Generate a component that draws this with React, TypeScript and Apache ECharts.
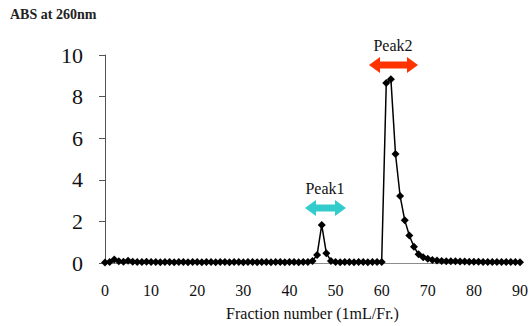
import React, { useEffect, useRef } from "react";
import * as echarts from "echarts";

const fractions: number[] = Array.from({ length: 91 }, (_, i) => i);
const absValues: number[] = [
  0.02, 0.05, 0.17, 0.08, 0.06, 0.11, 0.06, 0.05, 0.05, 0.06,
  0.05, 0.05, 0.04, 0.05, 0.05, 0.04, 0.05, 0.05, 0.04, 0.05,
  0.05, 0.04, 0.05, 0.05, 0.04, 0.05, 0.05, 0.04, 0.05, 0.05,
  0.04, 0.05, 0.05, 0.04, 0.05, 0.05, 0.04, 0.05, 0.05, 0.04,
  0.05, 0.05, 0.04, 0.05, 0.05, 0.1, 0.39, 1.83, 0.47, 0.1,
  0.05, 0.04, 0.05, 0.05, 0.04, 0.05, 0.05, 0.04, 0.05, 0.05,
  0.05, 8.65, 8.84, 5.24, 3.22, 2.06, 1.32, 0.78, 0.42, 0.28,
  0.2, 0.15, 0.12, 0.1, 0.09, 0.08, 0.08, 0.07, 0.07, 0.06,
  0.06, 0.06, 0.05, 0.05, 0.05, 0.05, 0.05, 0.05, 0.05, 0.05,
  0.04,
];
const xTicks = { min: 0, max: 90, interval: 10 };
const yTicks = { min: 0, max: 10, interval: 2 };
const peakLabels = ["Peak1", "Peak2"];

const FONT = "Liberation Serif";

function arrowPoints(x1: number, x2: number, y: number): number[][] {
  const hw = 3.5;
  const hh = 8;
  const hl = 11;
  return [
    [x1, y],
    [x1 + hl, y - hh],
    [x1 + hl, y - hw],
    [x2 - hl, y - hw],
    [x2 - hl, y - hh],
    [x2, y],
    [x2 - hl, y + hh],
    [x2 - hl, y + hw],
    [x1 + hl, y + hw],
    [x1 + hl, y + hh],
  ];
}

export default function App() {
  const ref = useRef<HTMLDivElement>(null);
  useEffect(() => {
    if (!ref.current) return;
    const chart = echarts.init(ref.current, null, { renderer: "svg" });
    const data = fractions.map((f, i) => [f, absValues[i]]);
    chart.setOption({
      animation: false,
      backgroundColor: "#ffffff",
      textStyle: { fontFamily: FONT },
      grid: { left: 105, right: 8, top: 55, bottom: 56, containLabel: false },
      xAxis: {
        type: "value",
        min: xTicks.min,
        max: xTicks.max,
        interval: xTicks.interval,
        axisLine: { show: true, lineStyle: { color: "#8c8c8c", width: 1 } },
        axisTick: { show: false },
        splitLine: { show: false },
        axisLabel: {
          color: "#111",
          fontFamily: FONT,
          fontSize: 16,
          margin: 19,
        },
        name: "Fraction number (1mL/Fr.)",
        nameLocation: "middle",
        nameGap: 42,
        nameTextStyle: { color: "#111", fontFamily: FONT, fontSize: 16 },
      },
      yAxis: {
        type: "value",
        min: yTicks.min,
        max: yTicks.max,
        interval: yTicks.interval,
        axisLine: { show: true, lineStyle: { color: "#555", width: 1 } },
        axisTick: { show: true, inside: false, length: 6, lineStyle: { color: "#555" } },
        splitLine: { show: false },
        axisLabel: {
          color: "#111",
          fontFamily: FONT,
          fontSize: 22,
          margin: 22,
        },
      },
      graphic: [
        {
          type: "text",
          left: 10,
          top: 7,
          style: {
            text: "ABS at 260nm",
            fontFamily: FONT,
            fontSize: 14,
            fontWeight: "bold",
            fill: "#222",
          },
        },
        {
          type: "polygon",
          shape: { points: arrowPoints(305, 346, 208) },
          style: { fill: "#33CCCC" },
        },
        {
          type: "text",
          x: 325,
          y: 188,
          style: {
            text: peakLabels[0],
            fontFamily: FONT,
            fontSize: 16,
            fill: "#111",
            align: "center",
            verticalAlign: "middle",
          },
        },
        {
          type: "polygon",
          shape: { points: arrowPoints(369, 418, 65) },
          style: { fill: "#FF3300" },
        },
        {
          type: "text",
          x: 393,
          y: 45,
          style: {
            text: peakLabels[1],
            fontFamily: FONT,
            fontSize: 16,
            fill: "#111",
            align: "center",
            verticalAlign: "middle",
          },
        },
      ],
      series: [
        {
          type: "line",
          data,
          symbol: "diamond",
          symbolSize: 8,
          showAllSymbol: true,
          lineStyle: { color: "#000", width: 1.5 },
          itemStyle: { color: "#000" },
        },
      ],
    });
    return () => chart.dispose();
  }, []);
  return (
    <div
      ref={ref}
      style={{ position: "fixed", left: 0, top: 0, width: 531, height: 326 }}
    />
  );
}
